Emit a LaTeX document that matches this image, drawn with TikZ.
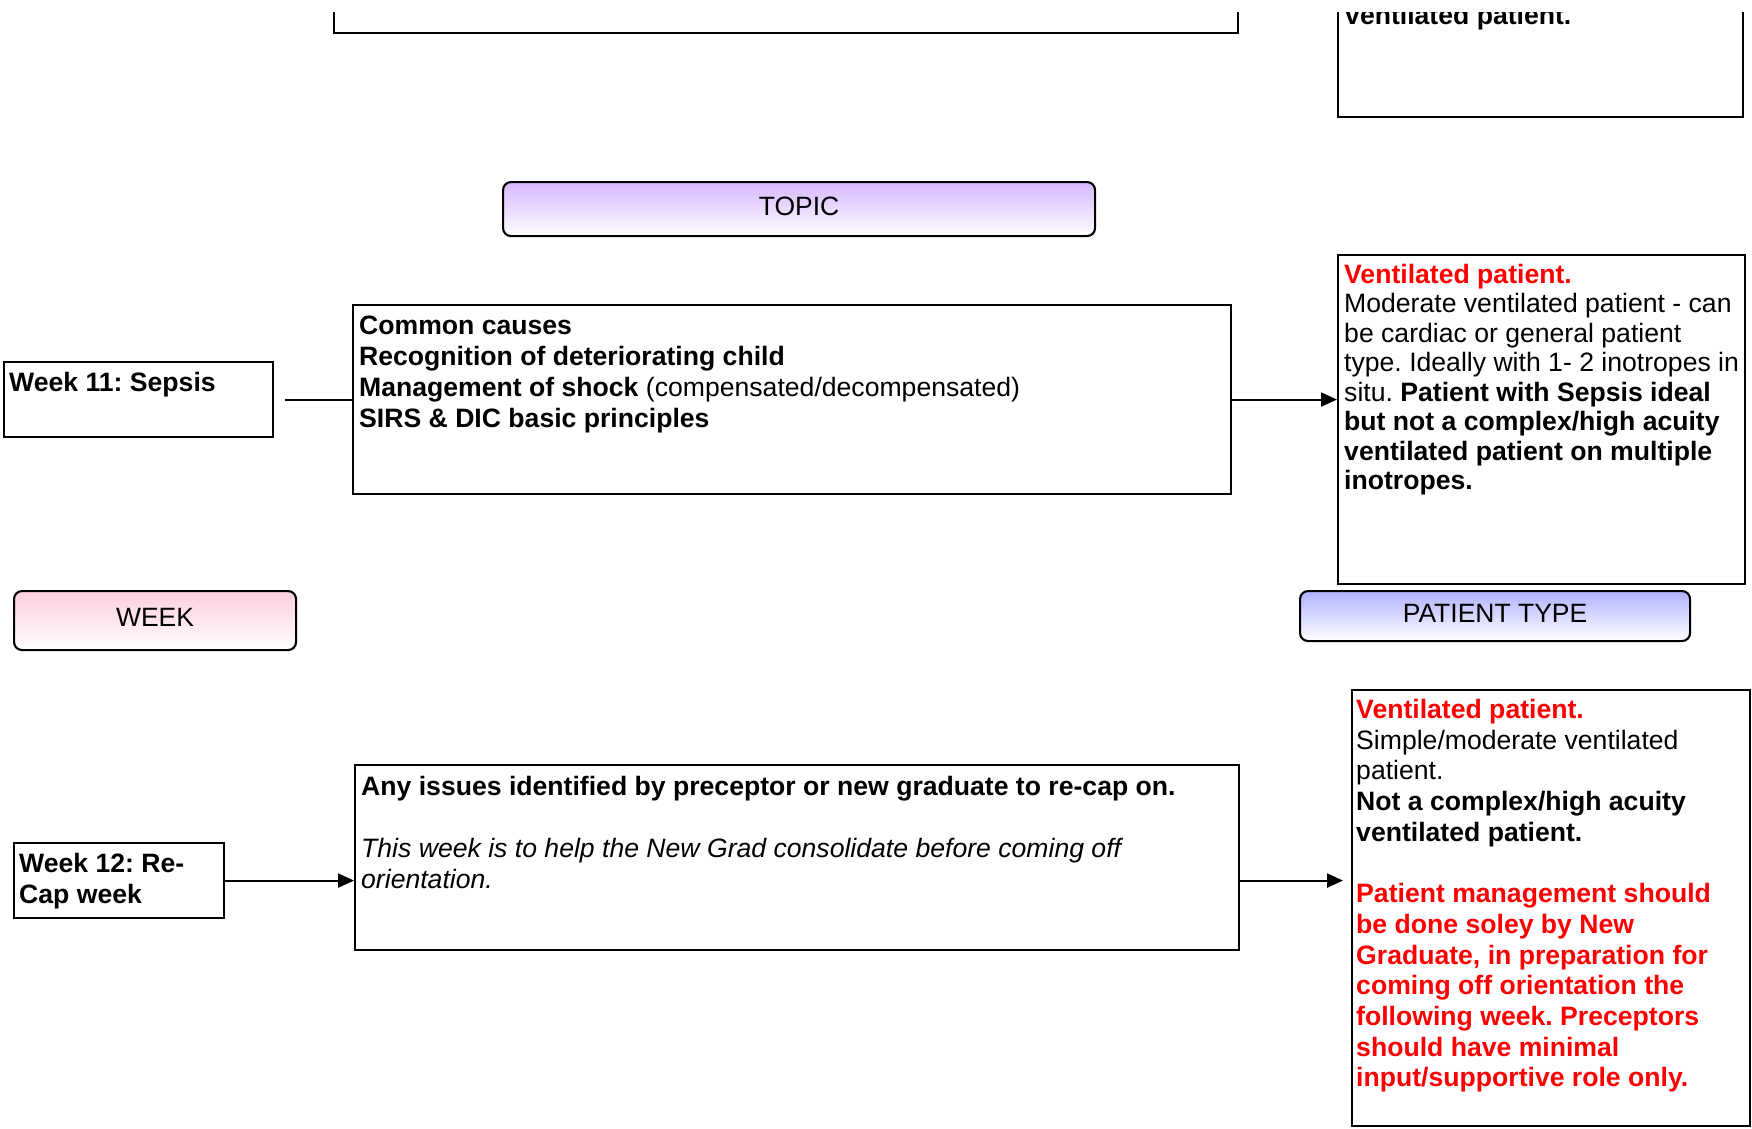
\documentclass[tikz,border=0pt]{standalone}
\usepackage{fontspec}
\setmainfont{Liberation Sans}
\frenchspacing
\usetikzlibrary{positioning, arrows.meta}
\definecolor{topicpurple}{RGB}{214,184,255}
\definecolor{weekpink}{RGB}{255,206,224}
\definecolor{typeblue}{RGB}{176,178,255}
\definecolor{alertred}{RGB}{255,0,0}

\begin{document}
\begin{tikzpicture}[x=1pt, y=-1pt,
  card/.style={draw=black, line width=2.1pt, anchor=north west, inner sep=0pt},
  tag/.style={draw=black, line width=2.1pt, rounded corners=8pt, anchor=north west,
    inner sep=0pt, shade, bottom color=white, text height=19pt, text depth=7pt,
    font=\fontsize{26.5}{30}\selectfont},
  body/.style={inner sep=0pt, align=left, font=\fontsize{26.6}{31}\selectfont},
  link/.style={line width=2.1pt},
  flow/.style={link, -{Triangle[length=16pt, width=14pt]}}
]
  \useasboundingbox (0,0) rectangle (1752,1128);
  \clip (0,12) rectangle (1752,1128);

  % boxes left over from the previous week, running off the top
  \node[card, minimum width=904pt, minimum height=140pt] (prevtopic) at (333,-108) {};
  \node[card, minimum width=405pt, minimum height=216pt] (prevtype) at (1337,-100) {};
  \node[body, anchor=base west] (prevtypetext) at (1345,24) {\textbf{ventilated patient.}};

  % column headings
  \node[tag, top color=topicpurple, minimum width=592pt, minimum height=54pt] (topichead) at (502,181) {TOPIC};
  \node[tag, top color=weekpink, minimum width=282pt, minimum height=59pt] (weekhead) at (13,590) {WEEK};
  \node[tag, top color=typeblue, minimum width=390pt, minimum height=50pt] (typehead) at (1299,590) {PATIENT TYPE};

  % week 11
  \node[card, minimum width=269pt, minimum height=75pt] (week11) at (3,361) {};
  \node[body, below right=11pt and 6pt of week11.north west] (week11text) {\textbf{Week 11: Sepsis}};

  \node[card, minimum width=878pt, minimum height=189pt] (topic11) at (352,304) {};
  \node[body, below right=12pt and 7pt of topic11.north west] (topic11text) {%
    \textbf{Common causes}\\
    \textbf{Recognition of deteriorating child}\\
    \textbf{Management of shock} (compensated/decompensated)\\
    \textbf{SIRS \& DIC basic principles}};

  \node[card, minimum width=407pt, minimum height=329pt] (type11) at (1337,254) {};
  \node[body, font=\fontsize{26.6}{29.5}\selectfont, below right=10pt and 7pt of type11.north west] (type11text) {%
    \textcolor{alertred}{\textbf{Ventilated patient.}}\\
    Moderate ventilated patient - can\\
    be cardiac or general patient\\
    type. Ideally with 1- 2 inotropes in\\
    situ. \textbf{Patient with Sepsis ideal}\\
    \textbf{but not a complex/high acuity}\\
    \textbf{ventilated patient on multiple}\\
    \textbf{inotropes.}};

  % week 12
  \node[card, minimum width=210pt, minimum height=75pt] (week12) at (13,842) {};
  \node[body, below right=11pt and 6pt of week12.north west] (week12text) {%
    \textbf{Week 12: Re-}\\
    \textbf{Cap week}};

  \node[card, minimum width=884pt, minimum height=185pt] (topic12) at (354,764) {};
  \node[body, below right=12pt and 7pt of topic12.north west] (topic12text) {%
    \textbf{Any issues identified by preceptor or new graduate to re-cap on.}\\[31pt]
    \textit{This week is to help the New Grad consolidate before coming off}\\
    \textit{orientation.}};

  \node[card, minimum width=398pt, minimum height=436pt] (type12) at (1351,689) {};
  \node[body, font=\fontsize{26.6}{30.7}\selectfont, below right=10pt and 5pt of type12.north west] (type12text) {%
    \textcolor{alertred}{\textbf{Ventilated patient.}}\\
    Simple/moderate ventilated\\
    patient.\\
    \textbf{Not a complex/high acuity}\\
    \textbf{ventilated patient.}\\[30.7pt]
    \textcolor{alertred}{\textbf{Patient management should}}\\
    \textcolor{alertred}{\textbf{be done soley by New}}\\
    \textcolor{alertred}{\textbf{Graduate, in preparation for}}\\
    \textcolor{alertred}{\textbf{coming off orientation the}}\\
    \textcolor{alertred}{\textbf{following week. Preceptors}}\\
    \textcolor{alertred}{\textbf{should have minimal}}\\
    \textcolor{alertred}{\textbf{input/supportive role only.}}};

  % connectors
  \draw[link] ([xshift=11pt]week11.east) -- (topic11.west);
  \draw[flow] (topic11.east) -- (topic11.east -| type11.west);
  \draw[flow] (week12.east) -- (week12.east -| topic12.west);
  \draw[flow, shorten >=8pt] (topic12.east |- week12.east) -- (type12.west |- week12.east);
\end{tikzpicture}
\end{document}
